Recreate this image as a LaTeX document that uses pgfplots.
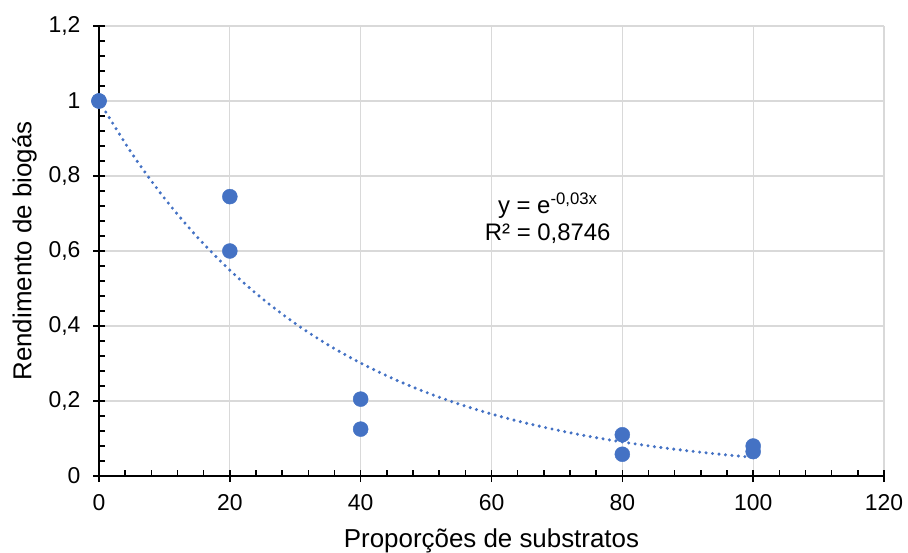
\documentclass[border=0pt]{standalone}
\usepackage{fontspec}
\setmainfont{Liberation Sans}
\usepackage{pgfplots}
\pgfplotsset{compat=1.18}
\definecolor{ptblue}{HTML}{4472C4}
\definecolor{gridgray}{HTML}{D9D9D9}
\begin{document}
\begin{tikzpicture}
\useasboundingbox (-99bp,-77bp) rectangle (809bp,476bp);
\begin{axis}[
  at={(0,0)}, anchor=south west,
  scale only axis, width=785bp, height=450bp,
  xmin=0, xmax=120, ymin=0, ymax=1.2,
  xtick={0,20,40,60,80,100,120},
  ytick={0,0.2,0.4,0.6,0.8,1,1.2},
  yticklabels={0,{0,2},{0,4},{0,6},{0,8},1,{1,2}},
  minor x tick num=4, minor y tick num=4,
  axis lines*=left,
  axis line style={black, line width=1.4bp},
  xmajorgrids, ymajorgrids,
  grid style={gridgray, line width=1.3bp},
  tick style={black, line width=1.4bp},
  tick align=inside,
  major tick length=6bp, minor tick length=6bp,
  extra x ticks={0,20,40,60,80,100,120},
  extra x tick labels={},
  extra x tick style={tick align=outside, grid=none, major tick length=6bp},
  extra y ticks={0,0.2,0.4,0.6,0.8,1,1.2},
  extra y tick labels={},
  extra y tick style={tick align=outside, grid=none, major tick length=6bp},
  /pgf/number format/assume math mode=true,
  ticklabel style={font=\fontsize{23}{27}\selectfont},
  xticklabel style={yshift=-15bp},
  yticklabel style={xshift=-15bp},
  xlabel={Proporções de substratos},
  ylabel={Rendimento de biogás},
  label style={font=\fontsize{26}{30}\selectfont},
  xlabel style={yshift=-5bp},
  ylabel style={yshift=-1bp},
  clip=false,
]
\addplot[ptblue, line width=3.4bp, line cap=round, dash pattern=on 0bp off 6.5bp, smooth] coordinates {
(0,1) (5,0.8607) (10,0.7408) (15,0.6376) (20,0.5488) (25,0.4724) (30,0.4066)
(35,0.3499) (40,0.3012) (45,0.2592) (50,0.2231) (55,0.1920) (60,0.1653)
(65,0.1423) (70,0.1225) (75,0.1054) (80,0.0907) (85,0.0781) (90,0.0672)
(95,0.0578) (100,0.0498)};
\addplot[only marks, mark=*, mark size=7.5bp, mark options={fill=ptblue, draw=ptblue}] coordinates {
(0,1) (0,1) (20,0.745) (20,0.6) (40,0.205) (40,0.125) (80,0.11) (80,0.058) (100,0.08) (100,0.065)};
\node[align=center, font=\fontsize{24}{27}\selectfont, inner sep=0pt] at (axis cs:68.6,0.688) {y = e\textsuperscript{-0,03x}\\R² = 0,8746};
\end{axis}
\end{tikzpicture}
\end{document}
